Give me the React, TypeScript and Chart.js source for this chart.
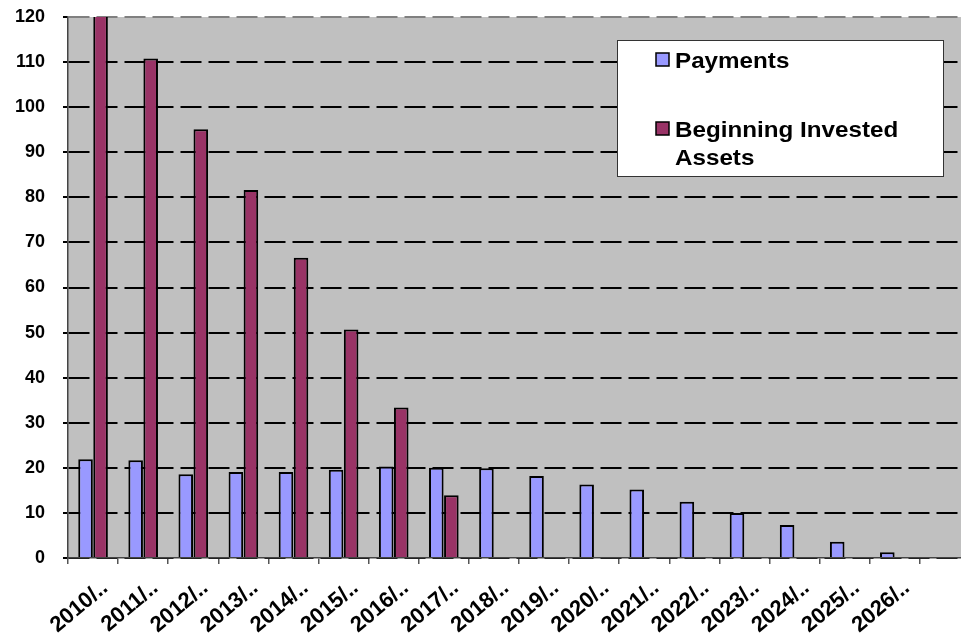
import React, { useEffect, useRef } from "react";
import { Chart, registerables } from "chart.js";

Chart.register(...registerables);

const categories = [
  "2010/..", "2011/..", "2012/..", "2013/..", "2014/..", "2015/..", "2016/..", "2017/..",
  "2018/..", "2019/..", "2020/..", "2021/..", "2022/..", "2023/..", "2024/..", "2025/..", "2026/..", "",
];
const payments = [21.9, 21.7, 18.6, 19.1, 19.1, 19.6, 20.3, 20.0, 19.9, 18.2, 16.3, 15.2, 12.5, 10.0, 7.3, 3.6, 1.3];
const beginningAssets = [126, 110.8, 95.1, 81.6, 66.6, 50.7, 33.4, 13.9];
const yTicks = [0, 10, 20, 30, 40, 50, 60, 70, 80, 90, 100, 110, 120];

const FONT = "'Liberation Sans', Arial, sans-serif";

const bgPlugin = {
  id: "plotBg",
  beforeDraw(chart: any) {
    const { ctx, chartArea } = chart;
    ctx.save();
    ctx.fillStyle = "#C0C0C0";
    ctx.fillRect(chartArea.left, chartArea.top, chartArea.right - chartArea.left, chartArea.bottom - chartArea.top);
    ctx.restore();
  },
};

const legendPlugin = {
  id: "boxLegend",
  afterDraw(chart: any) {
    const { ctx } = chart;
    const x = 617, y = 40, w = 326, h = 136;
    ctx.save();
    ctx.fillStyle = "#FFFFFF";
    ctx.fillRect(x, y, w, h);
    ctx.strokeStyle = "#333333";
    ctx.lineWidth = 1;
    ctx.strokeRect(x + 0.5, y + 0.5, w, h);
    ctx.font = `bold 22px ${FONT}`;
    ctx.textBaseline = "alphabetic";
    const items = [
      { ds: 0, lines: [chart.data.datasets[0].label], base: 68 },
      { ds: 1, lines: ["Beginning Invested", "Assets"], base: 137 },
    ];
    items.forEach((it) => {
      const color = chart.data.datasets[it.ds].backgroundColor;
      ctx.fillStyle = color;
      ctx.fillRect(656, it.base - 15, 13, 13);
      ctx.strokeStyle = "#000";
      ctx.lineWidth = 1.5;
      ctx.strokeRect(656, it.base - 15, 13, 13);
      ctx.fillStyle = "#000";
      it.lines.forEach((ln: string, i: number) => {
        ctx.save();
        ctx.translate(675, it.base + i * 28);
        ctx.scale(1.1, 1);
        ctx.fillText(ln, 0, 0);
        ctx.restore();
      });
    });
    ctx.restore();
  },
};

export default function App() {
  const ref = useRef<HTMLCanvasElement | null>(null);
  useEffect(() => {
    if (!ref.current) return;
    const chart = new Chart(ref.current, {
      type: "bar",
      data: {
        labels: categories,
        datasets: [
          {
            label: "Payments",
            data: payments,
            backgroundColor: "#9999FF",
            borderColor: "#000000",
            borderWidth: 2,
            borderSkipped: "start",
            categoryPercentage: 0.6,
            barPercentage: 0.97,
          },
          {
            label: "Beginning Invested Assets",
            data: beginningAssets,
            backgroundColor: "#993366",
            borderColor: "#000000",
            borderWidth: 2,
            borderSkipped: "start",
            categoryPercentage: 0.6,
            barPercentage: 0.97,
          },
        ],
      },
      options: {
        responsive: false,
        animation: false,
        layout: { padding: { top: 17, right: 30, left: 0, bottom: 0 } },
        plugins: { legend: { display: false }, tooltip: { enabled: false } },
        scales: {
          x: {
            offset: true,
            afterFit(scale: any) {
              scale.height = 83;
            },
            grid: {
              display: true,
              drawOnChartArea: false,
              offset: true,
              tickLength: 6,
              color: "#555555",
              lineWidth: 1.5,
            },
            border: { display: true, color: "#444444", width: 1.5 },
            ticks: {
              autoSkip: false,
              maxRotation: 40,
              minRotation: 40,
              color: "#000",
              padding: 11,
              labelOffset: 12,
              font: { family: FONT, size: 22, weight: "bold" },
            },
          },
          y: {
            min: 0,
            max: 120,
            afterFit(scale: any) {
              scale.width = 68;
              scale.paddingTop = 0;
              scale.paddingBottom = 0;
            },
            afterBuildTicks(scale: any) {
              scale.ticks = yTicks.map((v) => ({ value: v }));
            },
            grid: {
              color: (c: any) => (c.tick && c.tick.value === 120 ? "#808080" : "#000000"),
              lineWidth: 2,
              tickLength: 5,
              tickBorderDash: [],
              tickColor: "#000000",
            },
            border: { display: true, color: "#444444", width: 1.5, dash: [21, 7] },
            ticks: {
              color: "#000",
              padding: 18,
              font: { family: FONT, size: 18, weight: "bold" },
            },
          },
        },
      },
      plugins: [bgPlugin, legendPlugin],
    } as any);
    return () => chart.destroy();
  }, []);
  return (
    <div style={{ position: "fixed", left: 0, top: 0, width: 961, height: 641, overflow: "hidden", background: "#fff" }}>
      <canvas ref={ref} width={1000} height={641} style={{ display: "block", width: 1000, height: 641 }} />
    </div>
  );
}
